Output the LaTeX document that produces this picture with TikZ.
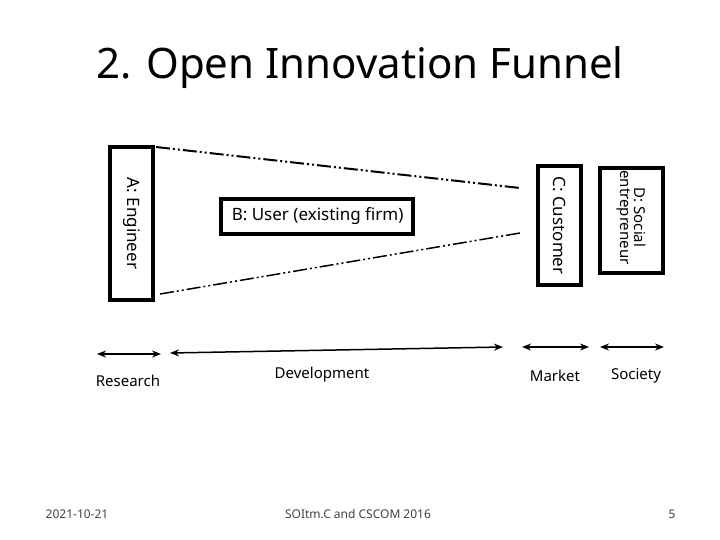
\documentclass[tikz,border=0pt]{standalone}
\usepackage{fontspec}
\setmainfont{Noto Sans}
\usetikzlibrary{arrows.meta}
\begin{document}
\begin{tikzpicture}[x=1pt,y=-1pt,
 box/.style={draw=black,line width=3.5pt,inner sep=0pt},
 btext/.style={font=\fontsize{17}{19}\selectfont},
 funnel/.style={line width=2pt,dash pattern=on 14pt off 3pt on 2pt off 3pt on 2pt off 3pt},
 span/.style={line width=1.5pt,{Stealth[length=9pt,width=7pt]}-{Stealth[length=9pt,width=7pt]}},
 lab/.style={font=\fontsize{15}{17}\selectfont},
 foot/.style={font=\fontsize{12}{14}\selectfont,text=black!75}]
\useasboundingbox (0,0) rectangle (720,540);
\node[font=\fontsize{42}{48}\selectfont] (title) at (360,68) {2. Open Innovation Funnel};
\node[box,minimum width=43pt,minimum height=153pt] (A) at (131.5,223.5) {};
\node[rotate=-90,btext] at (A.center) {A: Engineer};
\node[box,minimum width=192pt,minimum height=35pt] (B) at (317,216.5) {};
\node[btext,anchor=west] at ([xshift=9pt]B.west) {B: User (existing firm)};
\node[box,minimum width=43pt,minimum height=119pt] (C) at (559.5,225.5) {};
\node[rotate=-90,btext] at (C.center) {C: Customer};
\node[box,minimum width=63pt,minimum height=105pt] (D) at (631.5,220.5) {};
\node[rotate=-90,font=\fontsize{15}{17}\selectfont,align=center] at ([yshift=3pt]D.center) {D: Social\\[-3pt]entrepreneur};
\coordinate (t1) at (156,147); \coordinate (t2) at (520,188);
\coordinate (b1) at (160,294); \coordinate (b2) at (520,233);
\draw[funnel] (t1) -- (t2);
\draw[funnel,line width=1.5pt] (b1) -- (b2);
\coordinate (r1) at (97,354); \coordinate (r2) at (161,354);
\coordinate (d1) at (170,353); \coordinate (d2) at (503,347);
\coordinate (m1) at (522,347); \coordinate (m2) at (589,347);
\coordinate (s1) at (600,347); \coordinate (s2) at (664,347);
\draw[span] (r1) -- (r2);
\draw[span] (d1) -- (d2);
\draw[span] (m1) -- (m2);
\draw[span] (s1) -- (s2);
\node[lab] (res) at (128,381) {Research};
\node[lab] (dev) at (322,375) {Development};
\node[lab] (mkt) at (555,376) {Market};
\node[lab] (soc) at (636,376) {Society};
\node[foot] (f1) at (77,514) {2021-10-21};
\node[foot] (f2) at (358,514) {SOItm.C and CSCOM 2016};
\node[foot] (f3) at (672,514) {5};
\end{tikzpicture}
\end{document}
